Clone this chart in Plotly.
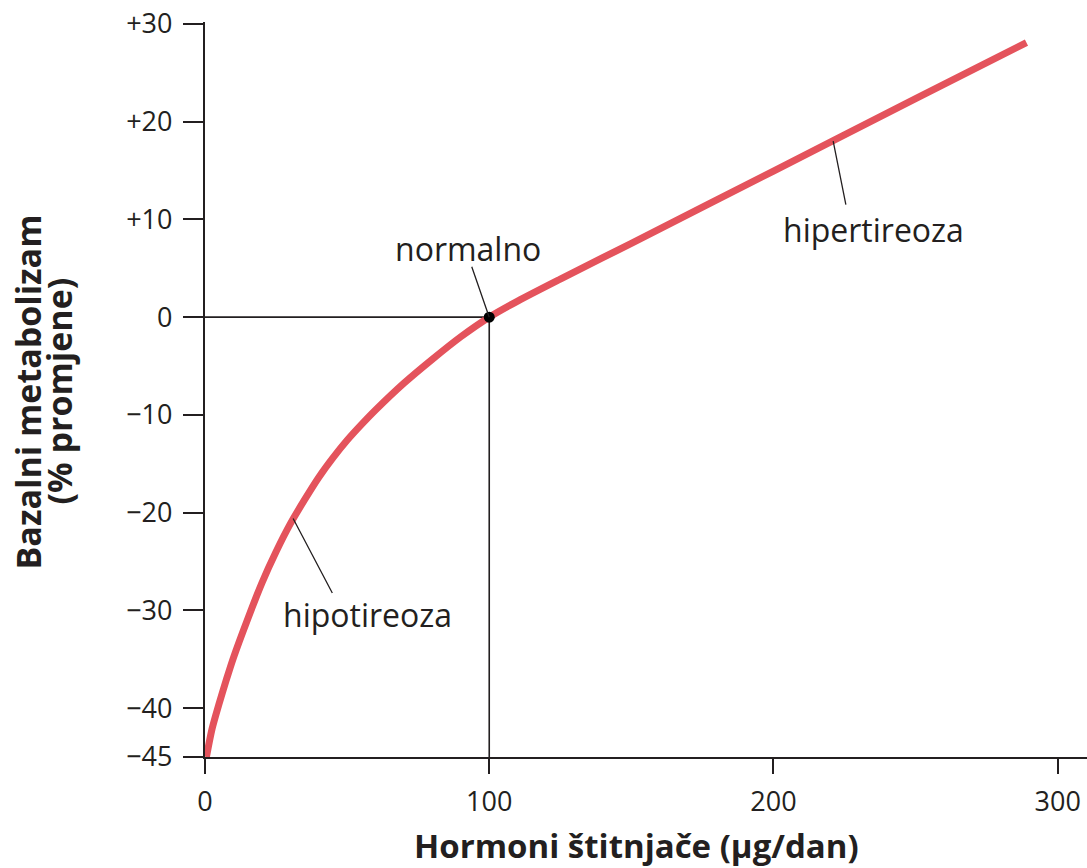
import plotly.graph_objects as go

# Curve: basal metabolism (% change) vs thyroid hormone (µg/day)
hormone = [0.5, 2.5, 5, 7.5, 10, 15, 20, 25, 30, 35, 40, 45, 50, 55, 60, 70, 80, 90, 100,
           110, 125, 150, 200, 250, 289]
metabolism = [-45, -42.1, -39.5, -37.1, -34.85, -30.9, -27.2, -24.0, -21.15, -18.7, -16.4,
              -14.4, -12.6, -11.0, -9.5, -6.75, -4.3, -2.0, 0, 1.65, 3.9, 7.55, 14.95,
              22.35, 28.1]

normal_x = [100]
normal_y = [0]

x_ticks = [0, 100, 200, 300]
y_ticks = [30, 20, 10, 0, -10, -20, -30, -40, -45]
y_tick_labels = ["+30", "+20", "+10", "0", "\u221210", "\u221220", "\u221230", "\u221240", "\u221245"]

# Labels: (text, text x, text y, curve x, curve y, leader dx px, leader dy px)
labels = [
    ("normalno", 92.5, 7.0, 100, 0, -18, -52),
    ("hipotireoza", 57, -30.4, 31, -20.6, 40, 76),
    ("hipertireoza", 235.3, 9.0, 221, 18.0, 13, 65),
]

RED = "#e4535c"
INK = "#231f20"
FONT = "Open Sans"

fig = go.Figure()

# reference lines to the normal point
fig.add_trace(go.Scatter(x=[0, normal_x[0], normal_x[0]], y=[normal_y[0], normal_y[0], -45],
                         mode="lines", line=dict(color=INK, width=1.6),
                         hoverinfo="skip", showlegend=False))
fig.add_trace(go.Scatter(x=hormone, y=metabolism, mode="lines",
                         line=dict(color=RED, width=7, shape="spline", smoothing=0.8),
                         showlegend=False))
fig.add_trace(go.Scatter(x=normal_x, y=normal_y, mode="markers",
                         marker=dict(color="black", size=11), showlegend=False))

for text, tx, ty, cx, cy, dx, dy in labels:
    fig.add_annotation(x=cx, y=cy, ax=dx, ay=dy, text="", showarrow=True,
                       arrowhead=0, arrowwidth=1.3, arrowcolor=INK)
    fig.add_annotation(x=tx, y=ty, text=text, showarrow=False,
                       font=dict(family=FONT, size=32, color=INK))

# axis titles
fig.add_annotation(x=0.5, y=0, xref="paper", yref="paper", yanchor="middle", xanchor="center",
                   xshift=-10, yshift=-88,
                   text="<b>Hormoni štitnjače (µg/dan)</b>", showarrow=False,
                   font=dict(family=FONT, size=33, color=INK))
fig.add_annotation(x=0, y=0.5, xref="paper", yref="paper", xanchor="center", yanchor="middle",
                   xshift=-178, yshift=-3, textangle=-90,
                   text="<b>Bazalni metabolizam</b>", showarrow=False,
                   font=dict(family=FONT, size=34, color=INK))
fig.add_annotation(x=0, y=0.5, xref="paper", yref="paper", xanchor="center", yanchor="middle",
                   xshift=-147, yshift=-2, textangle=-90,
                   text="<b>(% promjene)</b>", showarrow=False,
                   font=dict(family=FONT, size=34, color=INK))

fig.update_layout(
    width=1087, height=868,
    margin=dict(l=205, r=0, t=22, b=111),
    paper_bgcolor="white", plot_bgcolor="white",
    font=dict(family=FONT, color=INK),
    hovermode=False,
    xaxis=dict(range=[0, 310.3], tickvals=x_ticks, ticks="outside", ticklen=15, tickwidth=2,
               tickcolor=INK, showline=True, linecolor=INK, linewidth=2.2, showgrid=False,
               zeroline=False, tickfont=dict(family=FONT, size=27, color=INK),
               ticklabelstandoff=4, automargin=False, ticklabeloverflow="allow"),
    yaxis=dict(range=[-45, 30.2], tickvals=y_ticks, ticktext=y_tick_labels, ticks="outside",
               ticklen=20, tickwidth=2, tickcolor=INK, showline=True, linecolor=INK,
               linewidth=2.2, showgrid=False, zeroline=False,
               tickfont=dict(family=FONT, size=27, color=INK), ticklabelstandoff=5,
               automargin=False, ticklabeloverflow="allow"),
)

# remove the default page margin so the 1087x868 figure fills the window exactly
fig.write_html("out.html", config={"displayModeBar": False},
               post_script="document.body.style.margin='0';")
